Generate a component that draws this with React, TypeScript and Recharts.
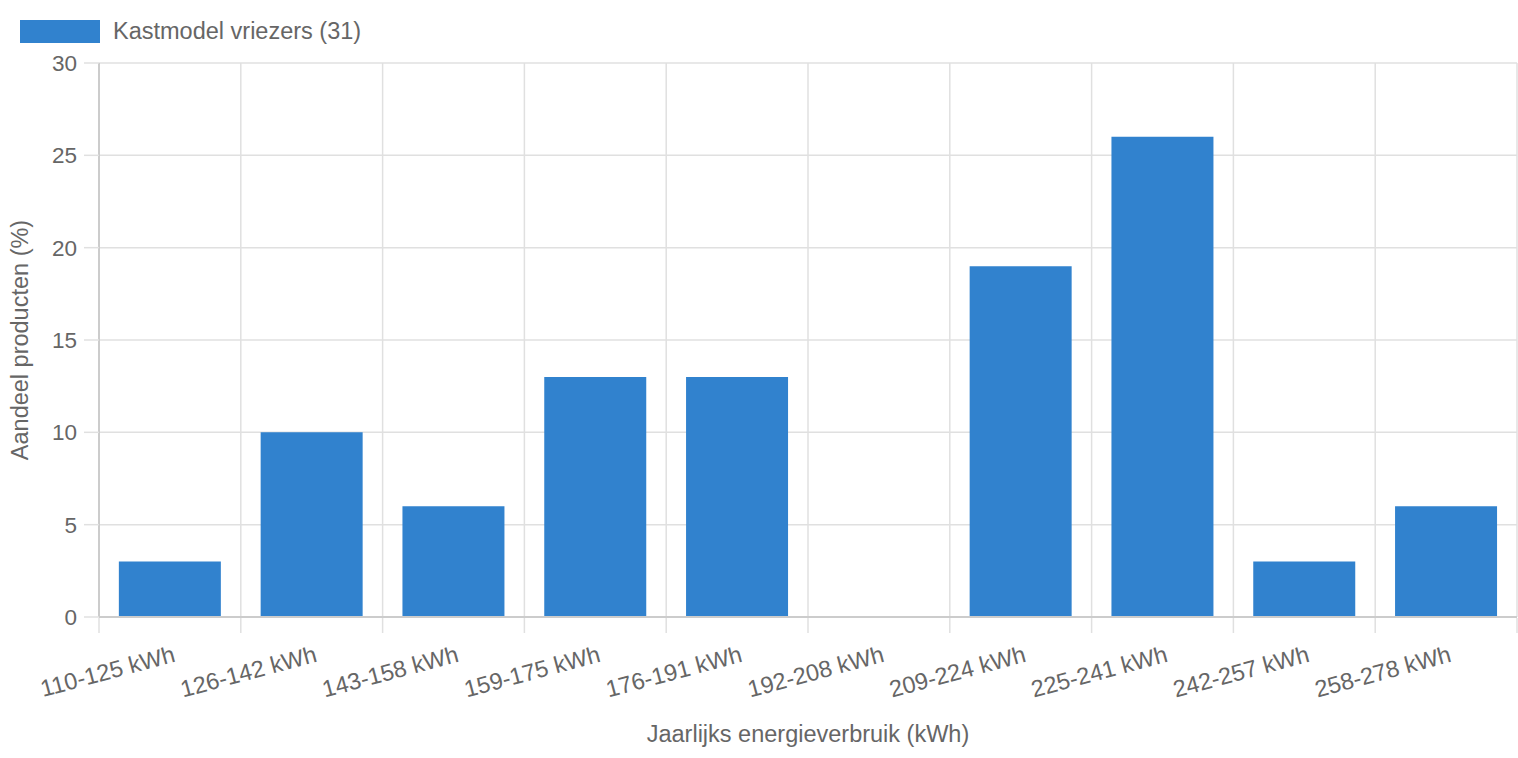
import React from "react";
import { BarChart, Bar, XAxis, YAxis, CartesianGrid, Legend } from "recharts";

const categories = [
  "110-125 kWh",
  "126-142 kWh",
  "143-158 kWh",
  "159-175 kWh",
  "176-191 kWh",
  "192-208 kWh",
  "209-224 kWh",
  "225-241 kWh",
  "242-257 kWh",
  "258-278 kWh",
];
const values = [3, 10, 6, 13, 13, 0, 19, 26, 3, 6];
const yTicks = [0, 5, 10, 15, 20, 25, 30];
const seriesName = "Kastmodel vriezers (31)";
const xTitle = "Jaarlijks energieverbruik (kWh)";
const yTitle = "Aandeel producten (%)";

const data = categories.map((name, i) => ({ name, value: values[i], idx: i + 0.5 }));
const boundaryTicks = [...categories.map((_, i) => i), categories.length];

const FONT = "'Liberation Sans', Helvetica, Arial, sans-serif";
const TEXT = "#666666";
const GRID = "#e0e0e0";
const AXIS = "#cccccc";
const BAR = "#3182ce";
const FS = 23.5;

const XTick = (props: any) => {
  const { x, y, payload } = props;
  return (
    <g transform={`translate(${x + 2},${y + 20}) rotate(-15)`}>
      <text x={0} y={0} dy="0.72em" textAnchor="end" fill={TEXT} fontSize={FS} fontFamily={FONT}>
        {payload.value}
      </text>
    </g>
  );
};

const EmptyTick = () => <g />;

const LegendContent = () => (
  <div style={{ display: "flex", alignItems: "center", fontFamily: FONT, fontSize: FS, color: TEXT, lineHeight: "23px", height: 23 }}>
    <div style={{ width: 80, height: 23, background: BAR, marginRight: 13 }} />
    <span>{seriesName}</span>
  </div>
);

export default function App() {
  return (
    <div style={{ position: "absolute", left: 0, top: 0, width: 1518, height: 758, background: "#fff" }}>
      <BarChart
        width={1518}
        height={758}
        data={data}
        margin={{ top: 40, right: 1, left: 0, bottom: 0 }}
        barCategoryGap="14%"
      >
        <CartesianGrid
          stroke={GRID}
          strokeWidth={1.5}
          verticalCoordinatesGenerator={({ offset }: any) =>
            boundaryTicks.map((i) => offset.left + (i * offset.width) / categories.length)
          }
        />
        <XAxis
          dataKey="name"
          height={1}
          tickLine={false}
          axisLine={{ stroke: AXIS, strokeWidth: 2 }}
          interval={0}
          tick={<XTick />}
          label={(p: any) => {
            const vb = p.viewBox;
            return (
              <text x={vb.x + vb.width / 2} y={736} textAnchor="middle" dominantBaseline="middle" fill={TEXT} fontSize={FS} fontFamily={FONT}>
                {xTitle}
              </text>
            );
          }}
        />
        <XAxis
          xAxisId="grid"
          type="number"
          dataKey="idx"
          domain={[0, categories.length]}
          allowDataOverflow
          ticks={boundaryTicks}
          interval={0}
          tick={<EmptyTick />}
          tickSize={15}
          tickLine={{ stroke: GRID, strokeWidth: 1.5 }}
          axisLine={false}
          height={140}
        />
        <YAxis
          width={99}
          domain={[0, 30]}
          ticks={yTicks}
          interval={0}
          tickSize={15}
          tickMargin={7}
          tickLine={{ stroke: GRID, strokeWidth: 1.5 }}
          axisLine={{ stroke: AXIS, strokeWidth: 2 }}
          tick={{ fill: TEXT, fontSize: 22.5, fontFamily: FONT }}
          label={(p: any) => {
            const vb = p.viewBox;
            const cy = vb.y + vb.height / 2;
            return (
              <text x={22} y={cy} transform={`rotate(-90, 22, ${cy})`} textAnchor="middle" dominantBaseline="middle" fill={TEXT} fontSize={FS} fontFamily={FONT}>
                {yTitle}
              </text>
            );
          }}
        />
        <Legend
          verticalAlign="top"
          content={<LegendContent />}
          wrapperStyle={{ position: "absolute", top: 20, left: 20, width: "auto", height: 23 }}
        />
        <Bar dataKey="value" name={seriesName} fill={BAR} isAnimationActive={false} />
      </BarChart>
    </div>
  );
}
